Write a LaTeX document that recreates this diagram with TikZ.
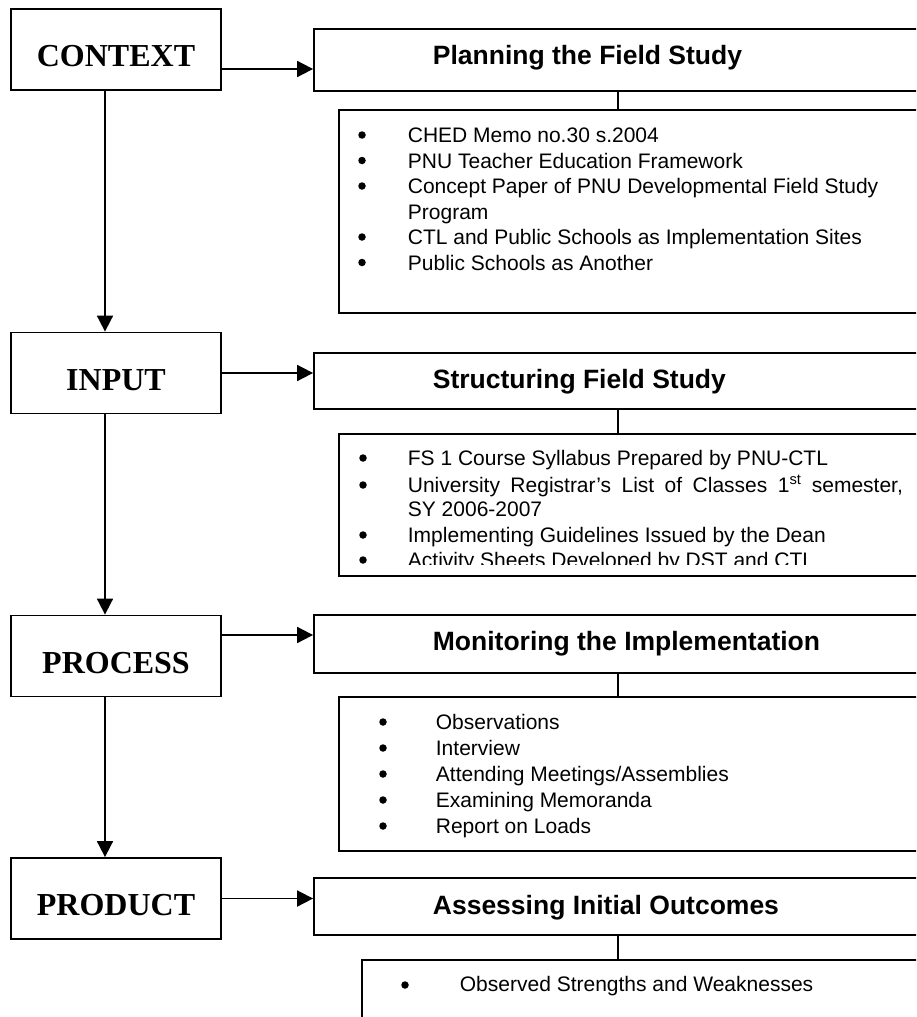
\documentclass[tikz,border=0pt]{standalone}
\usepackage{fontspec}
\setmainfont{Liberation Serif}
\setsansfont{Liberation Sans}
\usetikzlibrary{arrows.meta}

\begin{document}
\begin{tikzpicture}[
       x=1pt, y=-1pt,
       line width=1.8pt,
       stage/.style={draw, minimum width=210pt, minimum height=81pt, inner sep=0pt,
                     font=\fontsize{32}{36}\selectfont\bfseries, text height=34pt, text depth=0pt},
       head/.style={draw, minimum width=608pt, inner sep=0pt},
       headtext/.style={anchor=base west, inner sep=0pt, font=\sffamily\bfseries\fontsize{26.5}{30}\selectfont},
       listbox/.style={draw, anchor=north west, minimum width=600pt, inner sep=0pt},
       dot/.style={circle, fill=black, minimum size=7.5pt, inner sep=0pt},
       entry/.style={anchor=base west, inner sep=0pt, font=\sffamily\fontsize{21}{25}\selectfont},
       arr/.style={-{Triangle[length=16pt, width=16pt]}}
   ]

   \clip (0,0) rectangle (916,1017);

   % stages on the left
   \node[stage] (context) at (116,49.5) {CONTEXT};
   \node[stage] (input) at (116,373) {INPUT};
   \node[stage] (process) at (116,656) {PROCESS};
   \node[stage] (product) at (116,898.5) {PRODUCT};

   \coordinate (spine) at (105,0);
   \draw[arr] (context.south -| spine) -- (input.north -| spine);
   \draw[arr] (input.south -| spine) -- (process.north -| spine);
   \draw[arr] (process.south -| spine) -- (product.north -| spine);

   % headings on the right
   \node[head, minimum height=62pt] (plan) at (618,60) {};
   \node[head, minimum height=56pt] (struct) at (618,381) {};
   \node[head, minimum height=58pt] (monitor) at (618,644) {};
   \node[head, minimum height=57pt] (assess) at (618,906.5) {};

   \node[headtext] (plan-t) at (432,64) {Planning the Field Study};
   \node[headtext] (struct-t) at (432,388) {Structuring Field Study};
   \node[headtext] (monitor-t) at (432,650) {Monitoring the Implementation};
   \node[headtext] (assess-t) at (432,914) {Assessing Initial Outcomes};

   \draw[arr] ([yshift=-19.5pt]context.east) coordinate (c1) -- (c1 -| plan.west);
   \draw[arr] (input.east) coordinate (c2) -- (c2 -| struct.west);
   \draw[arr] ([yshift=21pt]process.east) coordinate (c3) -- (c3 -| monitor.west);
   \draw[arr] (product.east) coordinate (c4) -- (c4 -| assess.west);

   % lists
   \node[listbox, minimum height=203pt] (plan-l) at (338,109) {};
   \node[listbox, minimum height=142pt] (struct-l) at (338,433) {};
   \node[listbox, minimum height=154pt] (monitor-l) at (338,696) {};
   \node[listbox, minimum height=80pt] (assess-l) at (361,959) {};

   \foreach \a in {plan, struct, monitor, assess} {
       \draw[line width=1.5pt] (\a.south) -- (\a.south |- \a-l.north);
   }

   \foreach \y/\t [count=\i] in {142.5/CHED Memo no.30 s.2004,
                                 168/PNU Teacher Education Framework,
                                 193.5/Concept Paper of PNU Developmental Field Study,
                                 244.5/CTL and Public Schools as Implementation Sites,
                                 270/Public Schools as Another} {
       \node[dot] (plan-d\i) at (362,\y-7.5) {};
       \node[entry] (plan-\i) at (407,\y) {\t};
   }
   \node[entry] (plan-more) at (407,219) {Program};

   \begin{scope}
       \clip (338,433) rectangle (916,564);
       \foreach \y/\t [count=\i] in {465.5/FS 1 Course Syllabus Prepared by PNU-CTL,
                                     492.5/{\makebox[495pt][s]{University Registrar’s List of Classes 1\textsuperscript{st} semester,}},
                                     542.5/Implementing Guidelines Issued by the Dean,
                                     567.5/Activity Sheets Developed by DST and CTL} {
           \node[dot] (struct-d\i) at (363,\y-7.5) {};
           \node[entry] (struct-\i) at (407,\y) {\t};
       }
       \node[entry] (struct-more) at (407,516.5) {SY 2006-2007};
   \end{scope}

   \foreach \y/\t [count=\i] in {729.5/Observations, 755.5/Interview,
                                 781.5/{Attending Meetings/Assemblies},
                                 807.5/Examining Memoranda, 833.5/Report on Loads} {
       \node[dot] (monitor-d\i) at (383,\y-7.5) {};
       \node[entry] (monitor-\i) at (435,\y) {\t};
   }

   \node[dot] (assess-d1) at (405,985) {};
   \node[entry] (assess-1) at (459,991.5) {Observed Strengths and Weaknesses};
\end{tikzpicture}
\end{document}
